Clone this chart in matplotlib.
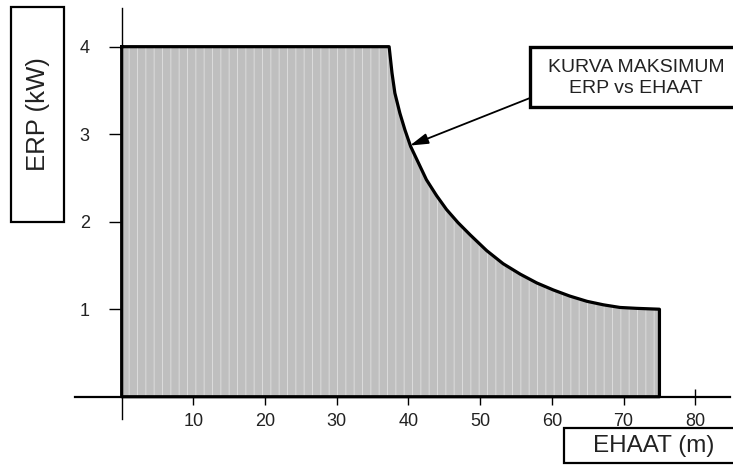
import numpy as np
import matplotlib
matplotlib.use("Agg")
import matplotlib.pyplot as plt
from matplotlib.patches import Rectangle

plt.rcParams['font.family'] = ['Liberation Sans', 'DejaVu Sans']
plt.rcParams['hatch.linewidth'] = 0.7

# ---- data ----
ehaat = [0, 37.3, 37.7, 38.1, 38.8, 39.5, 40.3, 41.4, 42.5, 43.9, 45.3,
         46.9, 48.6, 50.9, 53.2, 55.6, 57.9, 60.2, 62.5, 64.9, 67.2, 69.5,
         71.8, 75.0]
erp = [4.0, 4.0, 3.70, 3.47, 3.24, 3.05, 2.86, 2.67, 2.48, 2.30, 2.14,
       1.99, 1.85, 1.67, 1.52, 1.40, 1.30, 1.22, 1.15, 1.09, 1.05, 1.02,
       1.01, 1.00]
x_ticks = [10, 20, 30, 40, 50, 60, 70, 80]
y_ticks = [1, 2, 3, 4]
x_label = "EHAAT (m)"
y_label = "ERP (kW)"
note = "KURVA MAKSIMUM\nERP vs EHAAT"
note_point = (40.2, 2.87)

W, H = 733, 468
fig = plt.figure(figsize=(W / 100, H / 100), dpi=100)

def fx(px):
    return px / W

def fy(py):
    return 1 - py / H

# axes placement (pixels)
left_px, right_px, top_px, bot_px = 75, 730, 8, 418.6
ax = fig.add_axes([fx(left_px), fy(bot_px), fx(right_px - left_px), (bot_px - top_px) / H])
ax.set_xlim(-6.51, 84.84)
ax.set_ylim(-0.25, 4.442)
ax.patch.set_alpha(0)

for s in ['top', 'right']:
    ax.spines[s].set_visible(False)
ax.spines['left'].set_position(('data', 0))
ax.spines['bottom'].set_position(('data', 0))
ax.spines['left'].set_linewidth(1.0)
ax.spines['bottom'].set_linewidth(1.6)

# filled region
x = np.array(ehaat)
y = np.array(erp)
ax.fill_between(x, y, 0, facecolor='#bfbfbf', edgecolor='#dcdcdc',
                hatch='||', linewidth=0, zorder=3)
ox = np.r_[x, x[-1], x[0], x[0]]
oy = np.r_[y, 0, 0, y[0]]
ax.plot(ox, oy, color='black', linewidth=2.3, solid_joinstyle='round', zorder=4)

# ticks
ax.set_xticks(x_ticks)
ax.set_xticklabels([str(t) for t in x_ticks])
ax.set_yticks(y_ticks)
ax.set_yticklabels([str(t) for t in y_ticks])
ax.tick_params(axis='x', direction='inout', length=12, width=1.0, pad=5.5,
               labelsize=13, labelcolor='#222222')
ax.tick_params(axis='y', direction='out', length=9.5, width=1.0, pad=13.5,
               labelsize=13, labelcolor='#222222')

# arrow to the curve
ax.annotate('', xy=note_point, xycoords='data',
            xytext=(fx(530), fy(98)), textcoords='figure fraction',
            arrowprops=dict(arrowstyle='-|>,head_length=0.55,head_width=0.16',
                            color='black', lw=1.3,
                            mutation_scale=20, shrinkA=0, shrinkB=0),
            zorder=6)

# label boxes
def box(x0, y0, x1, y1, lw):
    r = Rectangle((fx(x0), fy(y1)), fx(x1 - x0), (y1 - y0) / H,
                  transform=fig.transFigure, facecolor='white',
                  edgecolor='black', linewidth=lw, zorder=5)
    fig.patches.append(r)

box(11, 7, 64, 222, 1.6)
fig.text(fx(37.5), fy(114.5), y_label, rotation=90, ha='center', va='center',
         fontsize=18.5, color='#222222', zorder=6)

box(564, 428, 740, 463, 1.6)
fig.text(fx(654), fy(446), x_label, ha='center', va='center',
         fontsize=17.5, color='#222222', zorder=6)

box(530, 47, 740, 107, 2.4)
fig.text(fx(636), fy(78), note, ha='center', va='center', multialignment='center',
         fontsize=14, linespacing=1.3, color='#222222', zorder=6)

fig.savefig('out.png', dpi=100)
